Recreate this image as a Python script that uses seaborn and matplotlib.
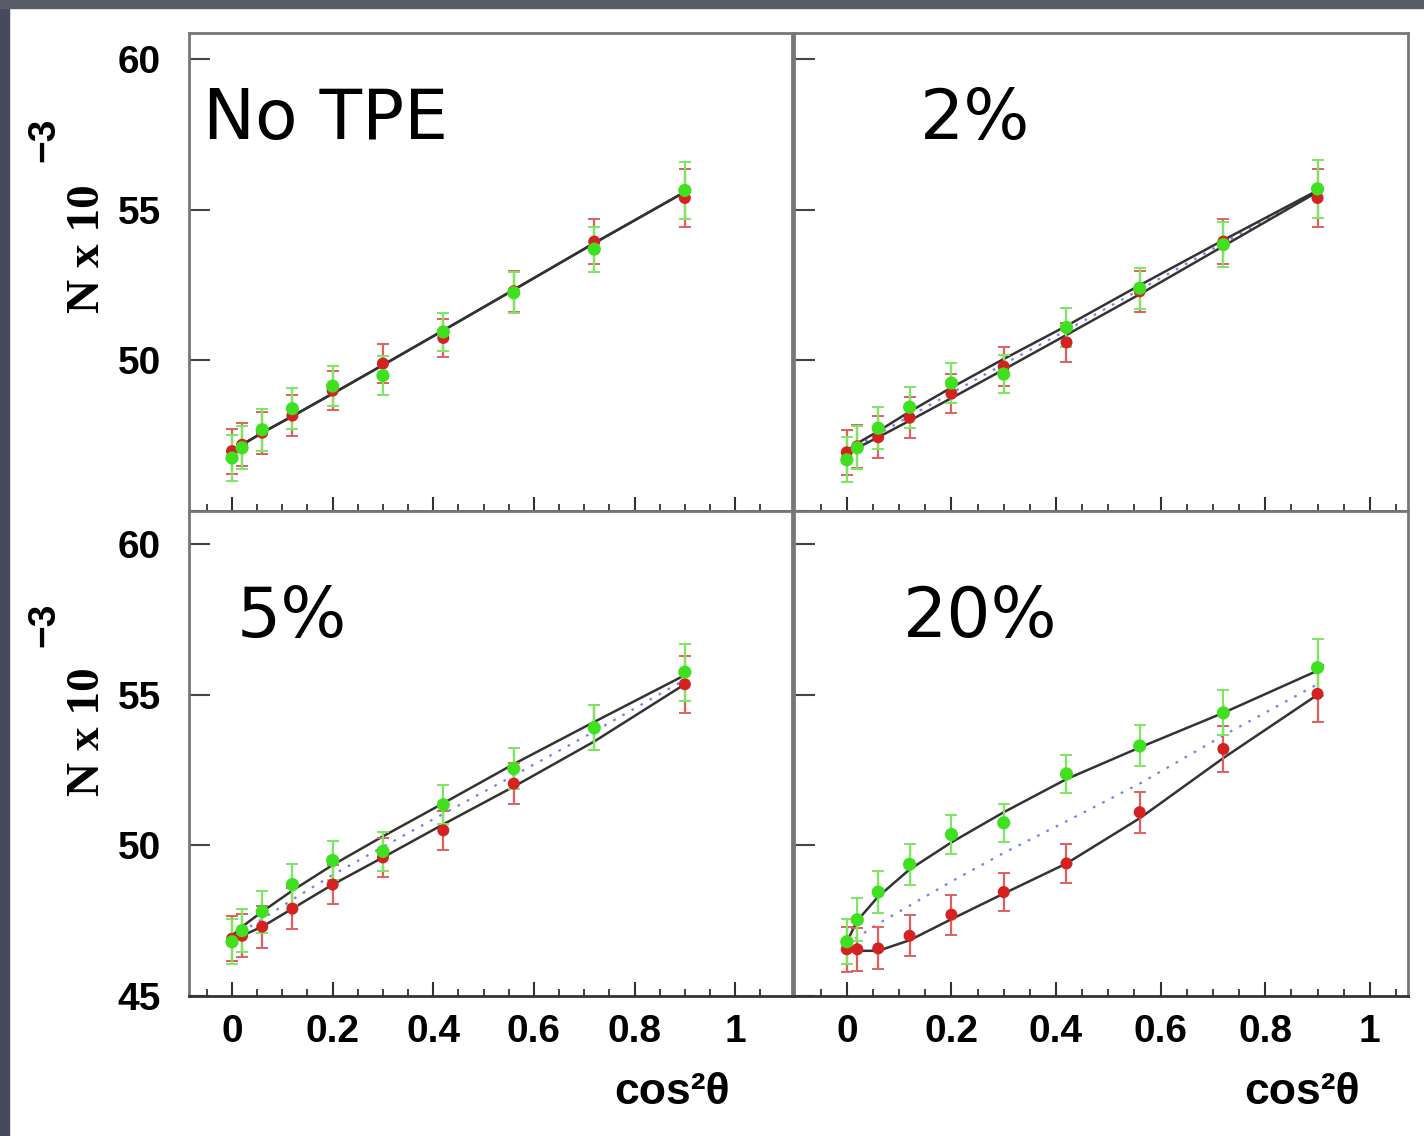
import numpy as np
import pandas as pd
import matplotlib
matplotlib.use('Agg')
import matplotlib.pyplot as plt
import seaborn as sns

sns.set_theme(style='white')
plt.rcParams['font.family'] = ['Liberation Sans', 'DejaVu Sans']
plt.rcParams['text.color'] = 'black'
plt.rcParams['xtick.color'] = 'black'
plt.rcParams['ytick.color'] = 'black'

# cos^2(theta) bins
x = [0.0, 0.02, 0.06, 0.12, 0.2, 0.3, 0.42, 0.56, 0.72, 0.9]

# No TPE
g0 = [46.76, 47.1, 47.7, 48.4, 49.15, 49.5, 50.95, 52.25, 53.7, 55.65]
r0 = [46.99, 47.2, 47.6, 48.17, 49.0, 49.9, 50.75, 52.3, 53.95, 55.4]
up0 = [47.0, 47.2, 47.6, 48.15, 48.9, 49.85, 51.0, 52.35, 53.9, 55.6]
lo0 = [47.0, 47.2, 47.6, 48.15, 48.9, 49.85, 51.0, 52.35, 53.9, 55.6]
mid0 = [47.0, 47.2, 47.6, 48.15, 48.9, 49.85, 51.0, 52.35, 53.9, 55.6]

# 2%
g2 = [46.7, 47.1, 47.75, 48.45, 49.25, 49.55, 51.1, 52.4, 53.85, 55.7]
r2 = [46.95, 47.15, 47.45, 48.1, 48.9, 49.8, 50.6, 52.3, 53.95, 55.4]
up2 = [47.0, 47.25, 47.65, 48.3, 49.1, 50.05, 51.15, 52.5, 54.0, 55.65]
lo2 = [46.95, 47.1, 47.45, 48.0, 48.75, 49.7, 50.85, 52.2, 53.8, 55.6]
mid2 = [46.98, 47.18, 47.55, 48.15, 48.92, 49.88, 51.0, 52.35, 53.9, 55.62]

# 5%
g5 = [46.8, 47.17, 47.8, 48.7, 49.5, 49.8, 51.35, 52.55, 53.9, 55.75]
r5 = [46.9, 47.0, 47.3, 47.9, 48.7, 49.6, 50.5, 52.05, 53.9, 55.35]
up5 = [47.0, 47.3, 47.8, 48.5, 49.35, 50.3, 51.4, 52.7, 54.1, 55.65]
lo5 = [46.9, 47.0, 47.3, 47.9, 48.7, 49.6, 50.7, 51.95, 53.45, 55.35]
mid5 = [46.95, 47.15, 47.55, 48.2, 49.02, 49.95, 51.05, 52.32, 53.78, 55.5]

# 20%
g20 = [46.8, 47.53, 48.45, 49.37, 50.36, 50.75, 52.37, 53.3, 54.4, 55.9]
r20 = [46.55, 46.55, 46.58, 47.0, 47.7, 48.45, 49.4, 51.1, 53.2, 55.03]
up20 = [46.8, 47.5, 48.3, 49.2, 50.1, 51.1, 52.2, 53.25, 54.4, 55.8]
lo20 = [46.6, 46.5, 46.5, 46.85, 47.55, 48.4, 49.4, 50.9, 52.9, 55.0]
mid20 = [46.7, 46.95, 47.4, 48.0, 48.8, 49.75, 50.8, 52.05, 53.65, 55.35]

# statistical errors
eg = [0.75, 0.72, 0.7, 0.68, 0.66, 0.64, 0.64, 0.68, 0.75, 0.95]
er = [0.75, 0.72, 0.7, 0.68, 0.66, 0.64, 0.64, 0.68, 0.75, 0.95]

panels = [
    ('No TPE', g0, r0, up0, lo0, mid0),
    ('2%', g2, r2, up2, lo2, mid2),
    ('5%', g5, r5, up5, lo5, mid5),
    ('20%', g20, r20, up20, lo20, mid20),
]

W, H = 1424, 1136
fig = plt.figure(figsize=(W / 100, H / 100), dpi=100)
fig.patch.set_facecolor('white')

# slide border strips
fig.patches.append(plt.Rectangle((0, 0), 9 / W, 1, transform=fig.transFigure,
                                 color='#464a5c', zorder=-5))
fig.patches.append(plt.Rectangle((0, 1 - 8 / H), 1, 8 / H, transform=fig.transFigure,
                                 color='#595d68', zorder=-5))


def box(l, t, r, b):
    return [l / W, 1 - b / H, (r - l) / W, (b - t) / H]


rects = [box(189, 33, 792, 511), box(794, 33, 1408, 511),
         box(189, 511, 792, 996), box(794, 511, 1408, 996)]
xlims = [(-0.0855, 1.113), (-0.101, 1.073), (-0.0855, 1.113), (-0.101, 1.073)]
ylims = [(45.26, 60.88), (45.26, 60.88), (45.16, 61.1), (45.16, 61.1)]
txt_pos = [(203, 120), (920, 120), (237, 617), (903, 617)]

green = '#3fe01f'
red = '#d42222'

for i, (name, g, r, up, lo, mid) in enumerate(panels):
    ax = fig.add_axes(rects[i])
    ax.set_facecolor('white')
    ax.set_xlim(*xlims[i])
    ax.set_ylim(*ylims[i])

    df = pd.DataFrame({'x': x, 'up': up, 'lo': lo, 'mid': mid})
    if name != 'No TPE':
        sns.lineplot(data=df, x='x', y='mid', ax=ax, color='#7d7dea',
                     linestyle=(0, (1.2, 3.5)), lw=1.6, zorder=2)
    sns.lineplot(data=df, x='x', y='up', ax=ax, color='#333333', lw=1.8, zorder=3)
    sns.lineplot(data=df, x='x', y='lo', ax=ax, color='#333333', lw=1.8, zorder=3)

    ax.errorbar(x, r, yerr=er, fmt='none', ecolor='#e06060', elinewidth=1.6,
                capsize=4, capthick=1.4, zorder=4)
    ax.errorbar(x, g, yerr=eg, fmt='none', ecolor='#7be860', elinewidth=1.6,
                capsize=4, capthick=1.4, zorder=4)
    sns.scatterplot(x=x, y=r, ax=ax, color=red, s=75, edgecolor='none', zorder=5)
    sns.scatterplot(x=x, y=g, ax=ax, color=green, s=90, edgecolor='none', zorder=6)

    ax.set_xlabel('')
    ax.set_ylabel('')
    ax.set_yticks([45, 50, 55, 60])
    ax.set_xticks([0, 0.2, 0.4, 0.6, 0.8, 1.0])
    ax.set_xticks(np.arange(-0.05, 1.1, 0.05), minor=True)
    ax.tick_params(axis='y', which='major', direction='in', length=15, width=1.5,
                   color='#444444', labelcolor='black', left=True, pad=20, labelsize=28)
    ax.tick_params(axis='x', which='major', direction='in', length=10, width=1.5,
                   color='#333333', labelcolor='black', bottom=True, pad=13, labelsize=28)
    ax.tick_params(axis='x', which='minor', direction='in', length=5, width=1.3,
                   color='#333333', bottom=True)
    ax.set_xticklabels(['0', '0.2', '0.4', '0.6', '0.8', '1'], fontweight='bold')
    ax.set_yticklabels(['45', '50', '55', '60'], fontweight='bold')
    if i in (0, 2):
        ax.get_yticklabels()[0].set_visible(i == 2)
    else:
        ax.tick_params(axis='y', labelleft=False)
    if i < 2:
        ax.tick_params(axis='x', labelbottom=False)

    for s in ax.spines.values():
        s.set_color('#777777')
        s.set_linewidth(2.0)
    ax.spines['bottom'].set_color('#333333')

    tx, ty = txt_pos[i]
    fig.text(tx / W, 1 - ty / H, name, fontsize=50, color='black',
             family=['DejaVu Sans'], va='center', ha='left')

# y axis labels
for cy_main, cy_sup in [(249, 140), (732, 625)]:
    fig.text(88 / W, 1 - cy_main / H, 'N x 10', rotation=90, fontsize=34,
             fontweight='bold', family=['Liberation Serif'], ha='center', va='center')
    fig.text(44 / W, 1 - cy_sup / H, '\u22123', rotation=90, fontsize=28,
             fontweight='bold', ha='center', va='center')

# x axis labels
for rx in [730, 1360]:
    fig.text(rx / W, 1 - 1092 / H, 'cos\u00b2\u03b8', fontsize=32,
             fontweight='bold', ha='right', va='center')

fig.savefig('out.png', dpi=100, facecolor=fig.get_facecolor())
